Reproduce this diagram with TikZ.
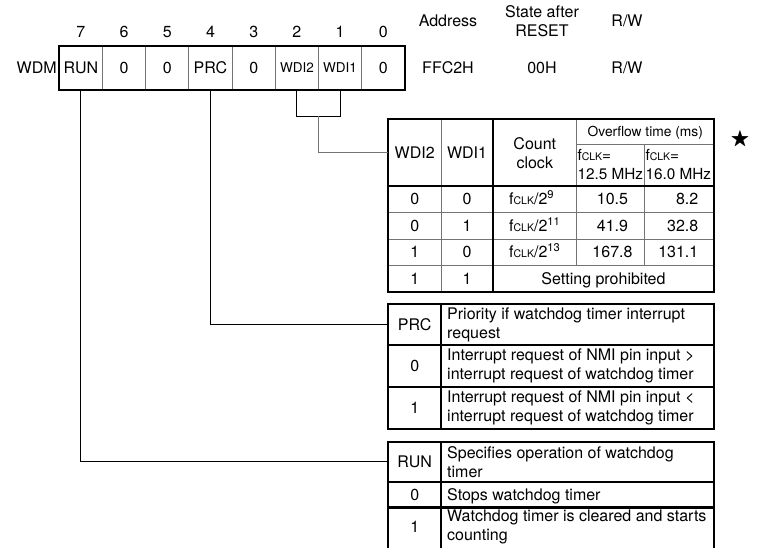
\documentclass[tikz,border=0pt]{standalone}
\usepackage{amssymb}
\usepackage{fontspec}
\setmainfont{TeX Gyre Heros}
\usetikzlibrary{positioning,calc}
\definecolor{wdmgray}{RGB}{115,115,115}
\newcommand{\fclk}{f{\fontsize{10.5}{10.5}\selectfont CLK}}
\newcommand{\regsmall}{\fontsize{13.5}{13.5}\selectfont}

\begin{document}
\begin{tikzpicture}[x=1pt,y=-1pt,
        every node/.style={font=\fontsize{16}{19}\selectfont,inner sep=0pt},
        tabframe/.style={line width=2.2pt},
        tabline/.style={draw=wdmgray,line width=0.9pt},
        wire/.style={line width=1pt},
        bitcell/.style={draw=wdmgray,line width=0.9pt,minimum width=43.2pt,minimum height=42.6pt},
        cellbox/.style 2 args={minimum width=#1,minimum height=#2}]
        \useasboundingbox (0,0) rectangle (757,548);
        \clip (0,0) rectangle (757,548);
        \foreach \lab/\n [count=\i from 0] in {RUN/7,0/6,0/5,PRC/4,0/3,{\regsmall WDI2}/2,{\regsmall WDI1}/1,0/0} {
          \node[bitcell] (bit\n) at (80.9+43.2*\i,68) {\lab};
          \node (num\n) at (80.9+43.2*\i,31.7) {\n};
        }
        \draw[tabframe] (bit7.north west) rectangle (bit0.south east);
        \node[left=2pt of bit7] (wdm) {WDM};
        \node (adr) at (448,21) {Address};
        \node[align=center] (rst) at (542,21) {State after\\RESET};
        \node (rw) at (627,21) {R/W};
        \node (adrval) at (448,68) {FFC2H};
        \node (rstval) at (542,68) {00H};
        \node (rwval) at (627,68) {R/W};
        \node[font=\fontsize{20}{20}\selectfont] (star) at (740,140) {$\bigstar$};

        \draw[tabline] (441,119.3) -- (441,292);
        \draw[tabline] (576.5,119.3) -- (576.5,265.5);
        \draw[tabline] (644.5,144.3) -- (644.5,265.5);
        \draw[tabline] (576.5,144.3) -- (714,144.3);
        \foreach \y in {212.5,239,265.5} \draw[tabline] (388.3,\y) -- (714,\y);
        \draw[tabframe] (388.3,119.3) rectangle (714,292);
        \draw[tabframe] (493,119.3) -- (493,292);
        \draw[tabframe] (388.3,186) -- (714,186);
        \node[cellbox={52.7pt}{66.7pt}] (wdihd) at (414.7,152.7) {WDI2};
        \node (wdi1hd) at (467,152.7) {WDI1};
        \node[align=center] (cnthd) at (534.8,152.7) {Count\\clock};
        \node[font=\fontsize{13.8}{16}\selectfont] (ovfhd) at (645.3,132.5) {Overflow time (ms)};
        \node[anchor=west,align=left,font=\fontsize{15.3}{19}\selectfont] (f1hd) at (577.3,164.5) {\fclk=\\12.5 MHz};
        \node[anchor=west,align=left,font=\fontsize{15.3}{19}\selectfont] (f2hd) at (645.3,164.5) {\fclk=\\16.0 MHz};
        \foreach \a/\b/\e/\p/\q [count=\r from 0] in {0/0/9/10.5/8.2,0/1/11/41.9/32.8,1/0/13/167.8/131.1} {
          \node[anchor=base] (wa\r) at (414.7,204.9+26.5*\r) {\a};
          \node[anchor=base] (wb\r) at (467,204.9+26.5*\r) {\b};
          \node[anchor=base west] (wc\r) at (509,204.9+26.5*\r) {\fclk/2\textsuperscript{\e}};
          \node[anchor=base] (wp\r) at (612.5,204.9+26.5*\r) {\p};
          \node[anchor=base east] (wq\r) at (698.5,204.9+26.5*\r) {\q};
        }
        \node[anchor=base] (wa3) at (414.7,284.4) {1};
        \node[anchor=base] (wb3) at (467,284.4) {1};
        \node[anchor=base] (wset) at (603.5,284.4) {Setting prohibited};

        \draw[tabframe] (388.3,304) rectangle (714.3,429.3);
        \draw[tabframe] (441,304) -- (441,429.3);
        \draw[tabframe] (388.3,345) -- (714.3,345);
        \draw[tabframe] (388.3,386.7) -- (714.3,386.7);
        \node[cellbox={52.7pt}{41pt}] (prchd) at (414.7,324.5) {PRC};
        \node[anchor=west,align=left] (prcdesc) at (447,324.5) {Priority if watchdog timer interrupt\\request};
        \node (prc0) at (414.7,365.8) {0};
        \node[anchor=west,align=left] (prc0desc) at (447,365.8) {Interrupt request of NMI pin input >\\interrupt request of watchdog timer};
        \node (prc1) at (414.7,408) {1};
        \node[anchor=west,align=left] (prc1desc) at (447,408) {Interrupt request of NMI pin input <\\interrupt request of watchdog timer};

        \draw[tabframe] (388.3,441.7) rectangle (714.3,549.5);
        \draw[tabframe] (441,441.7) -- (441,549.5);
        \draw[tabframe] (388.3,482) -- (714.3,482);
        \draw[tabframe] (388.3,507.5) -- (714.3,507.5);
        \node[cellbox={52.7pt}{40.3pt}] (runhd) at (414.7,461.8) {RUN};
        \node[anchor=west,align=left] (rundesc) at (447,461.8) {Specifies operation of watchdog\\timer};
        \node[anchor=base] (run0) at (414.7,500.6) {0};
        \node[anchor=base west] (run0desc) at (447,500.6) {Stops watchdog timer};
        \node (run1) at (414.7,527) {1};
        \node[anchor=west,align=left] (run1desc) at (447,527) {Watchdog timer is cleared and starts\\counting};

        \draw[wire] (bit7.south) |- (runhd.west);
        \draw[wire] (bit4.south) |- (prchd.west);
        \draw[wire] (bit2.south) -- ++(0,26.7) -| (bit1.south);
        \draw[wire,draw=wdmgray] ($(bit2.south)!.5!(bit1.south)+(0,26.7)$) |- (wdihd.west);
      \end{tikzpicture}
\end{document}
